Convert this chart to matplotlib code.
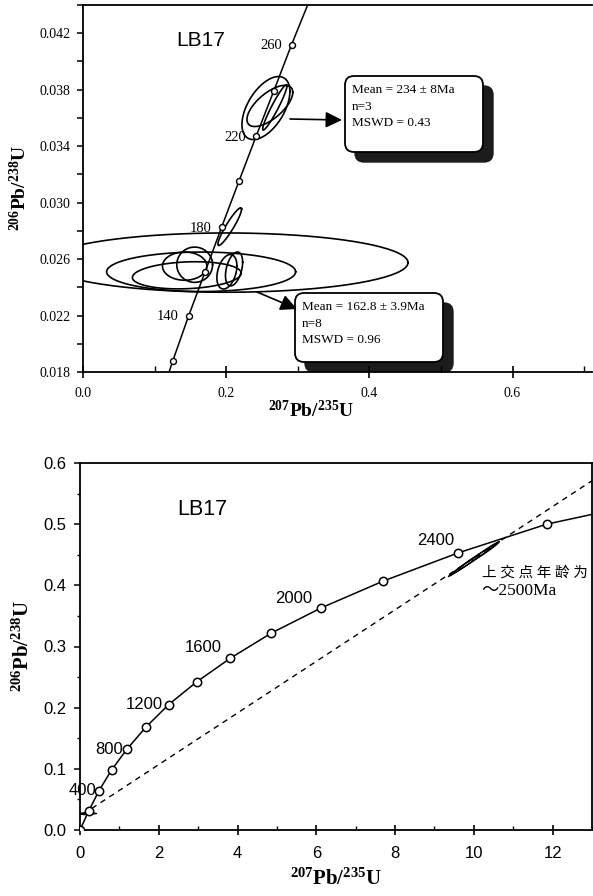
import numpy as np
import matplotlib
matplotlib.use('Agg')
import matplotlib.pyplot as plt
from matplotlib import font_manager
from matplotlib.patches import FancyBboxPatch, FancyArrowPatch
from matplotlib.ticker import MultipleLocator, FixedLocator

names = {f.name for f in font_manager.fontManager.ttflist}
narrow = 'Liberation Sans Narrow' if 'Liberation Sans Narrow' in names else 'Liberation Sans'

plt.rcParams['mathtext.fontset'] = 'custom'
plt.rcParams['mathtext.rm'] = 'Liberation Serif:bold'
plt.rcParams['mathtext.bf'] = 'Liberation Serif:bold'
plt.rcParams['mathtext.it'] = 'Liberation Serif:bold'

# ---------------- data: upper panel (young zircons) ----------------
top_curve_x = [0.105, 0.1255, 0.1477, 0.1706, 0.1939, 0.2177, 0.2418, 0.2664, 0.2914, 0.317]
top_curve_y = [0.0157, 0.0188, 0.0220, 0.0251, 0.0283, 0.0315, 0.0347, 0.0379, 0.0412, 0.0444]
top_ages = [120, 140, 160, 180, 200, 220, 240, 260]
top_mark_x = [0.1255, 0.1477, 0.1706, 0.1939, 0.2177, 0.2418, 0.2664, 0.2914]
top_mark_y = [0.0188, 0.0220, 0.0251, 0.0283, 0.0315, 0.0347, 0.0379, 0.0412]
top_labels = [140, 180, 220, 260]
top_yticks = [0.018, 0.022, 0.026, 0.030, 0.034, 0.038, 0.042]
top_yminor = [0.020, 0.024, 0.028, 0.032, 0.036, 0.040, 0.044]

# error ellipses: centre x, centre y, half width x, half width y, tilt
ell_cx = [0.200, 0.165, 0.145, 0.142, 0.156, 0.201, 0.211, 0.205, 0.2555, 0.261, 0.268]
ell_cy = [0.02575, 0.0251, 0.02485, 0.0255, 0.0256, 0.0251, 0.0253, 0.0283, 0.0367, 0.03685, 0.03675]
ell_rx = [0.254, 0.132, 0.076, 0.031, 0.025, 0.014, 0.012, 0.0165, 0.0335, 0.032, 0.017]
ell_ry = [0.0021, 0.0014, 0.00095, 0.0010, 0.00125, 0.00115, 0.0011, 0.0005, 0.0019, 0.0011, 0.0005]
ell_s = [0.0, 0.0, 0.002, 0.0, 0.0, 0.03, 0.04, 0.075, 0.035, 0.03, 0.09]

box1_lines = ['Mean = 234 \u00b1 8Ma', 'n=3', 'MSWD = 0.43']
box2_lines = ['Mean = 162.8 \u00b1 3.9Ma', 'n=8', 'MSWD = 0.96']

# ---------------- data: lower panel (whole range) ----------------
bot_ages = [0, 200, 400, 600, 800, 1000, 1200, 1400, 1600, 1800, 2000, 2200, 2400, 2600]
bot_mark_x = [0, 0.22, 0.48, 0.80, 1.19, 1.67, 2.25, 2.96, 3.82, 4.86, 6.12, 7.70, 9.60, 11.85]
bot_mark_y = [0, 0.031, 0.064, 0.098, 0.132, 0.168, 0.205, 0.242, 0.281, 0.322, 0.363, 0.407, 0.453, 0.500]
bot_end_x, bot_end_y = 13.0, 0.516
bot_labels = [400, 800, 1200, 1600, 2000, 2400]
disc_x = [0.08, 13.0]
disc_y = [0.026, 0.571]

# ellipses near upper intercept and near origin
bell_cx = [9.75, 9.95, 10.10, 10.30, 10.00, 0.20, 0.15]
bell_cy = [0.432, 0.441, 0.447, 0.456, 0.443, 0.027, 0.026]
bell_rx = [0.40, 0.45, 0.50, 0.35, 0.62, 0.22, 0.12]
bell_ry = [0.0025, 0.003, 0.0025, 0.003, 0.002, 0.0015, 0.0012]
bell_s = [0.044, 0.044, 0.043, 0.044, 0.044, 0.0, 0.0]

W, H = 593, 896
fig = plt.figure(figsize=(W / 100, H / 100), dpi=100)


def rect(l, t, r, b):
    return [l / W, 1 - b / H, (r - l) / W, (b - t) / H]


def ellipse(ax, cx, cy, rx, ry, s, lw):
    t = np.linspace(0, 2 * np.pi, 160)
    ax.plot(cx + rx * np.cos(t), cy + s * rx * np.cos(t) + ry * np.sin(t),
            color='black', lw=lw)


def inch(x, y):
    return (x / 100, (H - y) / 100)


def shadow_box(ax, l, t, r, b, lines):
    tr = fig.dpi_scale_trans
    off = 10
    sh = FancyBboxPatch(inch(l + off, b + off), (r - l) / 100, (b - t) / 100,
                        boxstyle='round,pad=0,rounding_size=0.09',
                        fc='#1c1c1c', ec='#1c1c1c', transform=tr)
    bx = FancyBboxPatch(inch(l, b), (r - l) / 100, (b - t) / 100,
                        boxstyle='round,pad=0,rounding_size=0.09',
                        fc='white', ec='black', lw=1.3, transform=tr)
    ax.add_patch(sh)
    ax.add_patch(bx)
    for i, s in enumerate(lines):
        x, y = inch(l + 7, t + 14 + i * 16.6)
        ax.text(x, y, s, transform=tr, family='Liberation Serif', fontsize=9.5,
                va='center', ha='left')


def arrow(ax, p0, p1):
    a = FancyArrowPatch(inch(*p0), inch(*p1), transform=fig.dpi_scale_trans,
                        arrowstyle='-|>,head_length=0.45,head_width=0.22',
                        mutation_scale=22, color='black', lw=1.2,
                        shrinkA=0, shrinkB=0)
    ax.add_patch(a)


# ================= upper panel =================
ax1 = fig.add_axes(rect(83, 5, 592, 372))
ax1.plot(top_curve_x, top_curve_y, color='black', lw=1.1)
for i in range(len(ell_cx)):
    ellipse(ax1, ell_cx[i], ell_cy[i], ell_rx[i], ell_ry[i], ell_s[i], 1.2)
ax1.plot(top_mark_x, top_mark_y, 'o', ms=4.3, mfc='white', mec='black', mew=1.0, zorder=5)
for age in top_labels:
    i = top_ages.index(age)
    ax1.annotate(str(age), (top_mark_x[i], top_mark_y[i]), xytext=(-7, -1),
                 textcoords='offset points', ha='right', va='center',
                 family='Liberation Serif', fontsize=10.5)
ax1.text(0.165, 0.0415, 'LB17', family='Liberation Sans', fontsize=15,
         ha='center', va='center')

shadow_box(ax1, 345, 76, 483, 152, box1_lines)
shadow_box(ax1, 295, 293, 443, 362, box2_lines)
arrow(ax1, (290, 119), (342, 120))
arrow(ax1, (257, 292), (297, 309))

ax1.set_xlim(0, 0.711)
ax1.set_ylim(0.018, 0.044)
ax1.xaxis.set_major_locator(MultipleLocator(0.2))
ax1.xaxis.set_minor_locator(MultipleLocator(0.1))
ax1.yaxis.set_major_locator(FixedLocator(top_yticks))
ax1.yaxis.set_minor_locator(FixedLocator(top_yminor))
ax1.xaxis.set_major_formatter(lambda v, p: f'{v:.1f}')
ax1.yaxis.set_major_formatter(lambda v, p: f'{v:.3f}')
ax1.tick_params(axis='x', which='major', direction='inout', length=8, width=1.2, pad=7)
ax1.tick_params(axis='x', which='minor', direction='in', length=4, width=1)
ax1.tick_params(axis='y', which='both', direction='out', length=4, width=1.1, pad=5)
for lab in ax1.get_xticklabels() + ax1.get_yticklabels():
    lab.set_family('Liberation Serif')
    lab.set_fontsize(10)
ax1.spines['right'].set_visible(False)
for sp in ('left', 'bottom', 'top'):
    ax1.spines[sp].set_linewidth(1.3)
ax1.set_xlabel(r'$\mathrm{^{207}Pb/^{235}U}$', fontsize=14)
ax1.set_ylabel(r'$\mathrm{^{206}Pb/^{238}U}$', fontsize=14)
ax1.xaxis.set_label_coords(0.448, -0.075)
ax1.yaxis.set_label_coords(-0.104, 0.5)

# ================= lower panel =================
ax2 = fig.add_axes(rect(80, 463, 592, 830))
ax2.plot(disc_x, disc_y, color='black', lw=1.0, ls=(0, (4, 3.5)))
ax2.plot(bot_mark_x + [bot_end_x], bot_mark_y + [bot_end_y], color='black', lw=1.1)
for i in range(len(bell_cx)):
    ellipse(ax2, bell_cx[i], bell_cy[i], bell_rx[i], bell_ry[i], bell_s[i], 0.7)
ax2.plot(bot_mark_x, bot_mark_y, 'o', ms=6, mfc='white', mec='black', mew=1.1, zorder=5)
lab_off = [(-1.5, 0), (-3, 0), (-4, 0), (-6, 8), (-6, 7), (-3, 9)]
for age, off in zip(bot_labels, lab_off):
    i = bot_ages.index(age)
    ax2.annotate(str(age), (bot_mark_x[i], bot_mark_y[i]), xytext=off,
                 textcoords='offset points', ha='right', va='center',
                 family=narrow, fontsize=12)
ax2.text(3.1, 0.524, 'LB17', family='Liberation Sans', fontsize=15.5,
         ha='center', va='center')
ax2.text(10.2, 0.420, '上 交 点 年 龄 为', family=['Liberation Serif', 'Noto Sans CJK SC'],
         fontsize=10.5, ha='left', va='center')
ax2.text(10.2, 0.391, '\uff5e2500Ma', family=['Liberation Serif', 'Noto Sans CJK SC'],
         fontsize=12.5, ha='left', va='center')

ax2.set_xlim(0, 13)
ax2.set_ylim(0, 0.6)
ax2.xaxis.set_major_locator(MultipleLocator(2))
ax2.xaxis.set_minor_locator(MultipleLocator(1))
ax2.yaxis.set_major_locator(MultipleLocator(0.1))
ax2.yaxis.set_minor_locator(MultipleLocator(0.05))
ax2.xaxis.set_major_formatter(lambda v, p: f'{v:.0f}')
ax2.yaxis.set_major_formatter(lambda v, p: f'{v:.1f}')
ax2.tick_params(axis='x', which='major', direction='inout', length=7, width=1.2, pad=8)
ax2.tick_params(axis='x', which='minor', direction='in', length=3, width=1)
ax2.tick_params(axis='y', which='major', direction='out', length=4, width=1.1, pad=6)
ax2.tick_params(axis='y', which='minor', direction='out', length=2.5, width=1)
for lab in ax2.get_xticklabels() + ax2.get_yticklabels():
    lab.set_family(narrow)
    lab.set_fontsize(12)
for sp in ax2.spines.values():
    sp.set_linewidth(1.3)
ax2.set_xlabel(r'$\mathrm{^{207}Pb/^{235}U}$', fontsize=15)
ax2.set_ylabel(r'$\mathrm{^{206}Pb/^{238}U}$', fontsize=15)
ax2.xaxis.set_label_coords(0.5, -0.103)
ax2.yaxis.set_label_coords(-0.092, 0.5)

fig.savefig('out.png', dpi=100)
